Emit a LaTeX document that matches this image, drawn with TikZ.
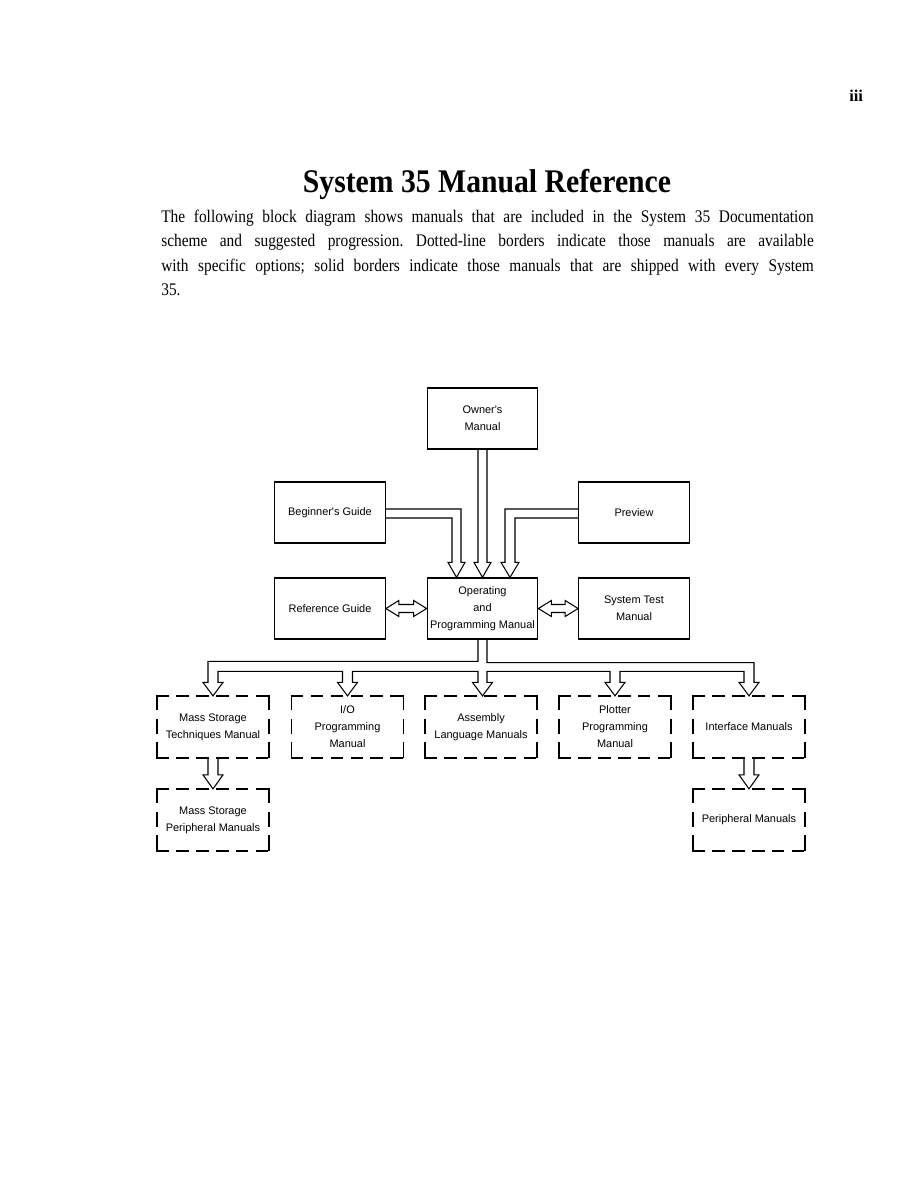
\documentclass[tikz,border=0pt]{standalone}
\usepackage{fontspec}
\setmainfont{Liberation Serif}
\newfontfamily\helv{Liberation Sans}
\usetikzlibrary{calc}
\frenchspacing
\newcommand\bodyline[1]{\scalebox{0.87}[1]{\makebox[500pt][s]{#1}}}
\begin{document}
\begin{tikzpicture}[x=0.66667pt,y=-0.66667pt,
  box/.style={draw, line width=0.9pt, minimum width=73.6pt, minimum height=40.6pt,
    inner sep=0pt, align=center, font=\helv\fontsize{7.3}{11.3}\selectfont},
  dbox/.style={box, draw=none},
  hdash/.style={line width=1.1pt, line cap=rect, dash pattern=on 7.2pt off 6.08pt},
  vdash/.style={line width=1.1pt, line cap=rect, dash pattern=on 9pt off 6.8pt},
  harrow/.style={draw, line width=0.7pt, line join=miter},
  bodytext/.style={anchor=base west, inner sep=0pt, font=\fontsize{11.8}{14}\selectfont}
]
\useasboundingbox (0,0) rectangle (918,1188);

% page header and text
\node[anchor=base west, inner sep=0pt, font=\bfseries\fontsize{11}{13}\selectfont] (pg) at (849,101) {iii};
\node[anchor=base, inner sep=0pt] (title) at (487,192)
  {\scalebox{0.9}[1]{\fontsize{22}{26}\selectfont\bfseries System 35 Manual Reference}};
\node[bodytext] (p1) at (161,222) {\bodyline{The following block diagram shows manuals that are included in the System 35 Documentation}};
\node[bodytext] (p2) at (161,246.5) {\bodyline{scheme and suggested progression. Dotted-line borders indicate those manuals are available}};
\node[bodytext] (p3) at (161,271) {\bodyline{with specific options; solid borders indicate those manuals that are shipped with every System}};
\node[bodytext] (p4) at (161,295.5) {\scalebox{0.87}[1]{35.}};

% solid boxes
\node[box] (own) at (482.5,418.5) {Owner's\\Manual};
\node[box] (beg) at (330,512.5) {Beginner's Guide};
\node[box] (prev) at (634,512.5) {Preview};
\node[box] (ref) at (330,608.5) {Reference Guide};
\node[box] (op) at (482.5,608.5) {Operating\\and\\Programming Manual};
\node[box] (sys) at (634,608.5) {System Test\\Manual};

% dashed boxes (frames drawn edge by edge so that every corner is solid)
\node[dbox] (ms) at (213,727) {Mass Storage\\Techniques Manual};
\node[dbox] (io) at (347.5,727) {I/O\\Programming\\Manual};
\node[dbox] (asm) at (481,727) {Assembly\\Language Manuals};
\node[dbox] (plt) at (615,727) {Plotter\\Programming\\Manual};
\node[dbox] (intf) at (749,727) {Interface Manuals};
\node[dbox] (msp) at (213,820) {Mass Storage\\Peripheral Manuals};
\node[dbox] (per) at (749,820) {Peripheral Manuals};
\foreach \n in {ms,io,asm,plt,intf,msp,per}{
  \draw[hdash] (\n.north west) -- (\n.north east);
  \draw[hdash] (\n.south west) -- (\n.south east);
  \draw[vdash] (\n.north west) -- (\n.south west);
  \draw[vdash] (\n.north east) -- (\n.south east);
}

% Owner's -> Operating
\draw[harrow] ($(own.south)+(-4.5,0)$) -- ($(op.north)+(-4.5,-15)$) -- ++(-4,0)
  -- (op.north) -- ++(8.5,-15) -- ++(-4,0) -- ($(own.south)+(4.5,0)$);
% Beginner's -> Operating
\draw[harrow] ($(beg.east)+(0,5.5)$) -| ($(op.north)+(-30.5,-15)$) -- ++(-4,0)
  -- ($(op.north)+(-26,0)$) -- ++(8.5,-15) -- ++(-4,0) |- ($(beg.east)+(0,-3.5)$);
% Preview -> Operating
\draw[harrow] ($(prev.west)+(0,-3.5)$) -| ($(op.north)+(22.5,-15)$) -- ++(-4,0)
  -- ($(op.north)+(27.5,0)$) -- ++(9,-15) -- ++(-4,0) |- ($(prev.west)+(0,5.5)$);
% Reference <-> Operating
\draw[harrow] (ref.east) -- ++(13,-8) -- ++(0,4) -- ($(op.west)+(-13,-4)$) -- ++(0,-4)
  -- (op.west) -- ++(-13,8) -- ++(0,-4) -- ($(ref.east)+(13,4)$) -- ++(0,4) -- cycle;
% Operating <-> System Test
\draw[harrow] (op.east) -- ++(13,-8) -- ++(0,4) -- ($(sys.west)+(-13,-4)$) -- ++(0,-4)
  -- (sys.west) -- ++(-13,8) -- ++(0,-4) -- ($(op.east)+(13,4)$) -- ++(0,4) -- cycle;

% distribution bus from Operating
\coordinate (ctip) at (op.south |- asm.north);
\draw[harrow]
  ($(op.south)+(-4.5,0)$) |- ($(ms.north)+(-5,-34.5)$)
  -- ($(ms.north)+(-5,-13.5)$) -- ++(-5,0) -- (ms.north) -- ++(10,-13.5) -- ++(-5,0)
  |- ($(io.north)+(-5,-24.5)$)
  -- ($(io.north)+(-5,-13.5)$) -- ++(-5,0) -- (io.north) -- ++(10,-13.5) -- ++(-5,0)
  |- ($(ctip)+(-4.5,-24.5)$)
  -- ($(ctip)+(-4.5,-13.5)$) -- ++(-5.5,0) -- (ctip) -- ++(10,-13.5) -- ++(-5.5,0)
  |- ($(plt.north)+(-5,-24.5)$)
  -- ($(plt.north)+(-5,-13.5)$) -- ++(-5,0) -- (plt.north) -- ++(10,-13.5) -- ++(-5,0)
  |- ($(intf.north)+(-5,-24.5)$)
  -- ($(intf.north)+(-5,-13.5)$) -- ++(-5,0) -- (intf.north) -- ++(10,-13.5) -- ++(-5,0)
  |- ($(op.south)+(4.5,23)$) -- ($(op.south)+(4.5,0)$);

% Mass Storage Techniques -> Mass Storage Peripheral
\draw[harrow] ($(ms.south)+(-5,0)$) -- ($(msp.north)+(-5,-14)$) -- ++(-5,0)
  -- (msp.north) -- ++(10,-14) -- ++(-5,0) -- ($(ms.south)+(5,0)$);
% Interface -> Peripheral
\draw[harrow] ($(intf.south)+(-5,0)$) -- ($(per.north)+(-5,-14)$) -- ++(-5,0)
  -- (per.north) -- ++(10,-14) -- ++(-5,0) -- ($(intf.south)+(5,0)$);
\end{tikzpicture}
\end{document}
